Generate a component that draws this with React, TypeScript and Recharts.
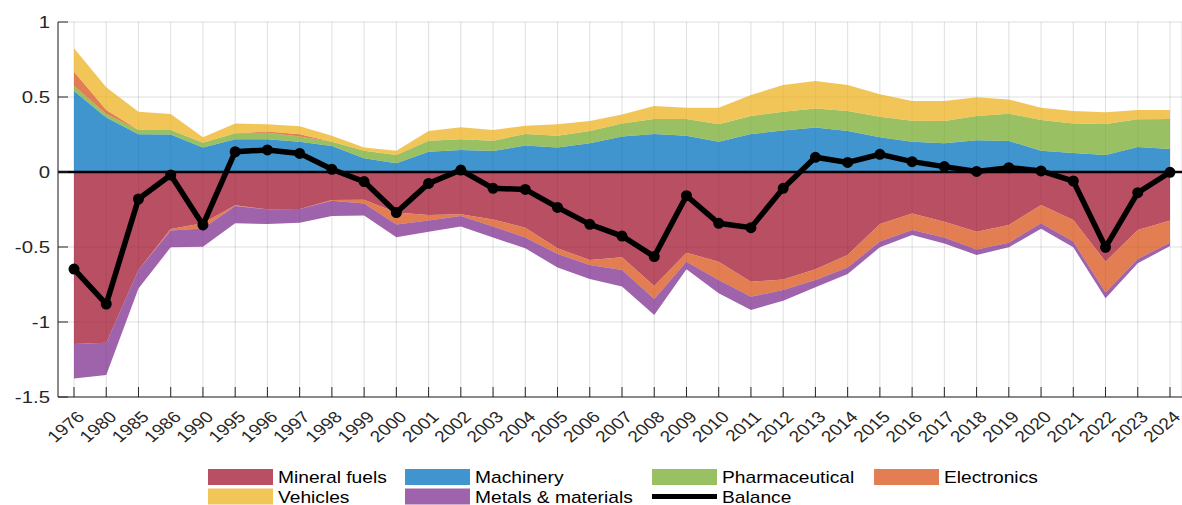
import React from 'react';
import {
  ComposedChart,
  Area,
  Line,
  XAxis,
  YAxis,
  CartesianGrid,
  ReferenceLine,
  Legend,
} from 'recharts';

// ---------------- data ----------------
const years = [
  '1976', '1980', '1985', '1986', '1990', '1995', '1996', '1997', '1998', '1999',
  '2000', '2001', '2002', '2003', '2004', '2005', '2006', '2007', '2008', '2009',
  '2010', '2011', '2012', '2013', '2014', '2015', '2016', '2017', '2018', '2019',
  '2020', '2021', '2022', '2023', '2024',
];

const mineralFuels = [
  -1.147, -1.138, -0.653, -0.38, -0.342, -0.222, -0.249, -0.247, -0.187, -0.185,
  -0.27, -0.287, -0.282, -0.316, -0.371, -0.509, -0.587, -0.569, -0.76, -0.538,
  -0.598, -0.731, -0.716, -0.649, -0.553, -0.347, -0.276, -0.331, -0.398, -0.353,
  -0.22, -0.32, -0.598, -0.387, -0.324,
];

const machinery = [
  0.54, 0.364, 0.251, 0.25, 0.164, 0.218, 0.218, 0.202, 0.173, 0.091,
  0.058, 0.135, 0.147, 0.14, 0.176, 0.164, 0.191, 0.236, 0.253, 0.242,
  0.202, 0.253, 0.276, 0.296, 0.273, 0.231, 0.202, 0.191, 0.211, 0.207,
  0.142, 0.127, 0.113, 0.167, 0.153,
];

const pharmaceutical = [
  0.033, 0.023, 0.029, 0.03, 0.031, 0.04, 0.044, 0.034, 0.029, 0.05,
  0.055, 0.074, 0.071, 0.069, 0.077, 0.078, 0.082, 0.088, 0.1, 0.111,
  0.116, 0.12, 0.126, 0.128, 0.134, 0.138, 0.14, 0.149, 0.162, 0.182,
  0.205, 0.197, 0.207, 0.184, 0.2,
];

const electronics = [
  0.096, 0.026, 0, -0.01, -0.034, -0.005, 0.008, 0.015, -0.004, -0.025,
  -0.08, -0.037, -0.011, -0.048, -0.065, -0.038, -0.033, -0.084, -0.087, -0.06,
  -0.122, -0.1, -0.071, -0.071, -0.083, -0.117, -0.111, -0.105, -0.118, -0.118,
  -0.122, -0.144, -0.206, -0.193, -0.147,
];

const vehicles = [
  0.156, 0.152, 0.122, 0.107, 0.036, 0.066, 0.048, 0.054, 0.04, 0.022,
  0.029, 0.064, 0.08, 0.071, 0.056, 0.076, 0.067, 0.06, 0.087, 0.076,
  0.111, 0.14, 0.178, 0.183, 0.173, 0.149, 0.131, 0.133, 0.125, 0.095,
  0.082, 0.083, 0.078, 0.062, 0.06,
];

const metalsMaterials = [
  -0.229, -0.215, -0.123, -0.112, -0.122, -0.115, -0.098, -0.091, -0.102, -0.08,
  -0.085, -0.074, -0.071, -0.072, -0.073, -0.089, -0.093, -0.111, -0.106, -0.051,
  -0.089, -0.089, -0.071, -0.049, -0.044, -0.038, -0.033, -0.04, -0.037, -0.031,
  -0.036, -0.038, -0.038, -0.029, -0.022,
];

const balance = [
  -0.647, -0.88, -0.18, -0.02, -0.353, 0.135, 0.147, 0.124, 0.018, -0.064,
  -0.27, -0.076, 0.013, -0.109, -0.116, -0.236, -0.349, -0.427, -0.564, -0.158,
  -0.342, -0.371, -0.109, 0.098, 0.064, 0.118, 0.069, 0.036, 0.004, 0.029,
  0.007, -0.06, -0.502, -0.138, -0.002,
];

const yTicks = [-1.5, -1, -0.5, 0, 0.5, 1];

const seriesNames = {
  mineral: 'Mineral fuels',
  machinery: 'Machinery',
  pharma: 'Pharmaceutical',
  electronics: 'Electronics',
  vehicles: 'Vehicles',
  metals: 'Metals & materials',
  balance: 'Balance',
};

// ---------------- styles ----------------
const COLORS = {
  mineral: '#A2142F',
  machinery: '#0072BD',
  pharma: '#77AC30',
  electronics: '#D95319',
  vehicles: '#EDB120',
  metals: '#7E2F8E',
  balance: '#000000',
};
const FILL_OPACITY = 0.75;
const FONT = '"Liberation Sans", Arial, Helvetica, sans-serif';
const INK = '#262626';

const data = years.map((year, i) => ({
  year,
  mineral: mineralFuels[i],
  machinery: machinery[i],
  pharma: pharmaceutical[i],
  elecPos: Math.max(electronics[i], 0),
  elecNeg: Math.min(electronics[i], 0),
  vehicles: vehicles[i],
  metals: metalsMaterials[i],
  balance: balance[i],
}));

const XTick = (props: any) => {
  const { x, y, payload } = props;
  return (
    <g>
      <line x1={x} x2={x} y1={y} y2={y - 10} stroke={INK} strokeWidth={1} />
      <text
        transform={`translate(${x + 11.5},${y + 21}) scale(1.2,1) rotate(-45)`}
        textAnchor="end"
        fontSize={16}
        fontFamily={FONT}
        fill={INK}
      >
        {payload.value}
      </text>
    </g>
  );
};

const YTick = (props: any) => {
  const { x, y, payload } = props;
  return (
    <g>
      <line x1={x} x2={x + 10} y1={y} y2={y} stroke={INK} strokeWidth={1} />
      <text
        transform={`translate(${x - 8},${y}) scale(1.2,1)`}
        textAnchor="end"
        dominantBaseline="central"
        fontSize={17}
        fontFamily={FONT}
        fill={INK}
      >
        {String(payload.value)}
      </text>
    </g>
  );
};

const legendItems = [
  { key: 'mineral', x: 208, row: 0 },
  { key: 'machinery', x: 405, row: 0 },
  { key: 'pharma', x: 652, row: 0 },
  { key: 'electronics', x: 874, row: 0 },
  { key: 'vehicles', x: 208, row: 1 },
  { key: 'metals', x: 405, row: 1 },
  { key: 'balance', x: 652, row: 1 },
];

const LegendContent = () => (
  <svg width={1182} height={43} style={{ overflow: 'visible', display: 'block' }}>
    {legendItems.map((it) => {
      const top = it.row === 0 ? 7 : 26.5;
      const name = (seriesNames as any)[it.key];
      const color = (COLORS as any)[it.key];
      return (
        <g key={it.key}>
          {it.key === 'balance' ? (
            <line x1={it.x} x2={it.x + 65} y1={top + 8} y2={top + 8} stroke={color} strokeWidth={5} />
          ) : (
            <rect x={it.x} y={top} width={65} height={16} fill={color} fillOpacity={FILL_OPACITY} />
          )}
          <text
            transform={`translate(${it.x + 70},${top + 14}) scale(1.2,1)`}
            fontSize={16}
            fontFamily={FONT}
            fill="#000"
          >
            {name}
          </text>
        </g>
      );
    })}
  </svg>
);

export default function App() {
  return (
    <div style={{ position: 'absolute', left: 0, top: 0, width: 1182, height: 505, background: '#fff' }}>
      <ComposedChart
        width={1182}
        height={505}
        data={data}
        margin={{ top: 22, right: 0, bottom: 48, left: 0 }}
      >
        <CartesianGrid stroke={INK} strokeOpacity={0.15} strokeWidth={1} />
        <XAxis
          dataKey="year"
          type="category"
          scale="point"
          padding={{ left: 16, right: 12 }}
          interval={0}
          height={60}
          tickSize={0}
          tickMargin={0}
          tickLine={false}
          axisLine={{ stroke: INK, strokeWidth: 1 }}
          tick={<XTick />}
        />
        <YAxis
          type="number"
          domain={[-1.5, 1]}
          ticks={yTicks}
          width={58}
          tickSize={0}
          tickMargin={0}
          tickLine={false}
          axisLine={{ stroke: INK, strokeWidth: 1 }}
          tick={<YTick />}
        />
        <Area type="linear" dataKey="mineral" name={seriesNames.mineral} stackId="neg" fill={COLORS.mineral} fillOpacity={FILL_OPACITY} stroke="none" isAnimationActive={false} />
        <Area type="linear" dataKey="elecNeg" name={seriesNames.electronics} stackId="neg" fill={COLORS.electronics} fillOpacity={FILL_OPACITY} stroke="none" isAnimationActive={false} />
        <Area type="linear" dataKey="metals" name={seriesNames.metals} stackId="neg" fill={COLORS.metals} fillOpacity={FILL_OPACITY} stroke="none" isAnimationActive={false} />
        <Area type="linear" dataKey="machinery" name={seriesNames.machinery} stackId="pos" fill={COLORS.machinery} fillOpacity={FILL_OPACITY} stroke="none" isAnimationActive={false} />
        <Area type="linear" dataKey="pharma" name={seriesNames.pharma} stackId="pos" fill={COLORS.pharma} fillOpacity={FILL_OPACITY} stroke="none" isAnimationActive={false} />
        <Area type="linear" dataKey="elecPos" name={seriesNames.electronics} stackId="pos" fill={COLORS.electronics} fillOpacity={FILL_OPACITY} stroke="none" isAnimationActive={false} />
        <Area type="linear" dataKey="vehicles" name={seriesNames.vehicles} stackId="pos" fill={COLORS.vehicles} fillOpacity={FILL_OPACITY} stroke="none" isAnimationActive={false} />
        <ReferenceLine y={0} stroke="#000" strokeWidth={2.5} />
        <Line
          type="linear"
          dataKey="balance"
          name={seriesNames.balance}
          stroke={COLORS.balance}
          strokeWidth={5.5}
          dot={{ r: 4.5, fill: '#000', stroke: '#000', strokeWidth: 2 }}
          activeDot={false}
          isAnimationActive={false}
        />
        <Legend
          verticalAlign="middle"
          align="center"
          content={<LegendContent />}
          wrapperStyle={{ position: 'absolute', left: 0, top: 462, width: 1182, height: 43 }}
        />
      </ComposedChart>
    </div>
  );
}
